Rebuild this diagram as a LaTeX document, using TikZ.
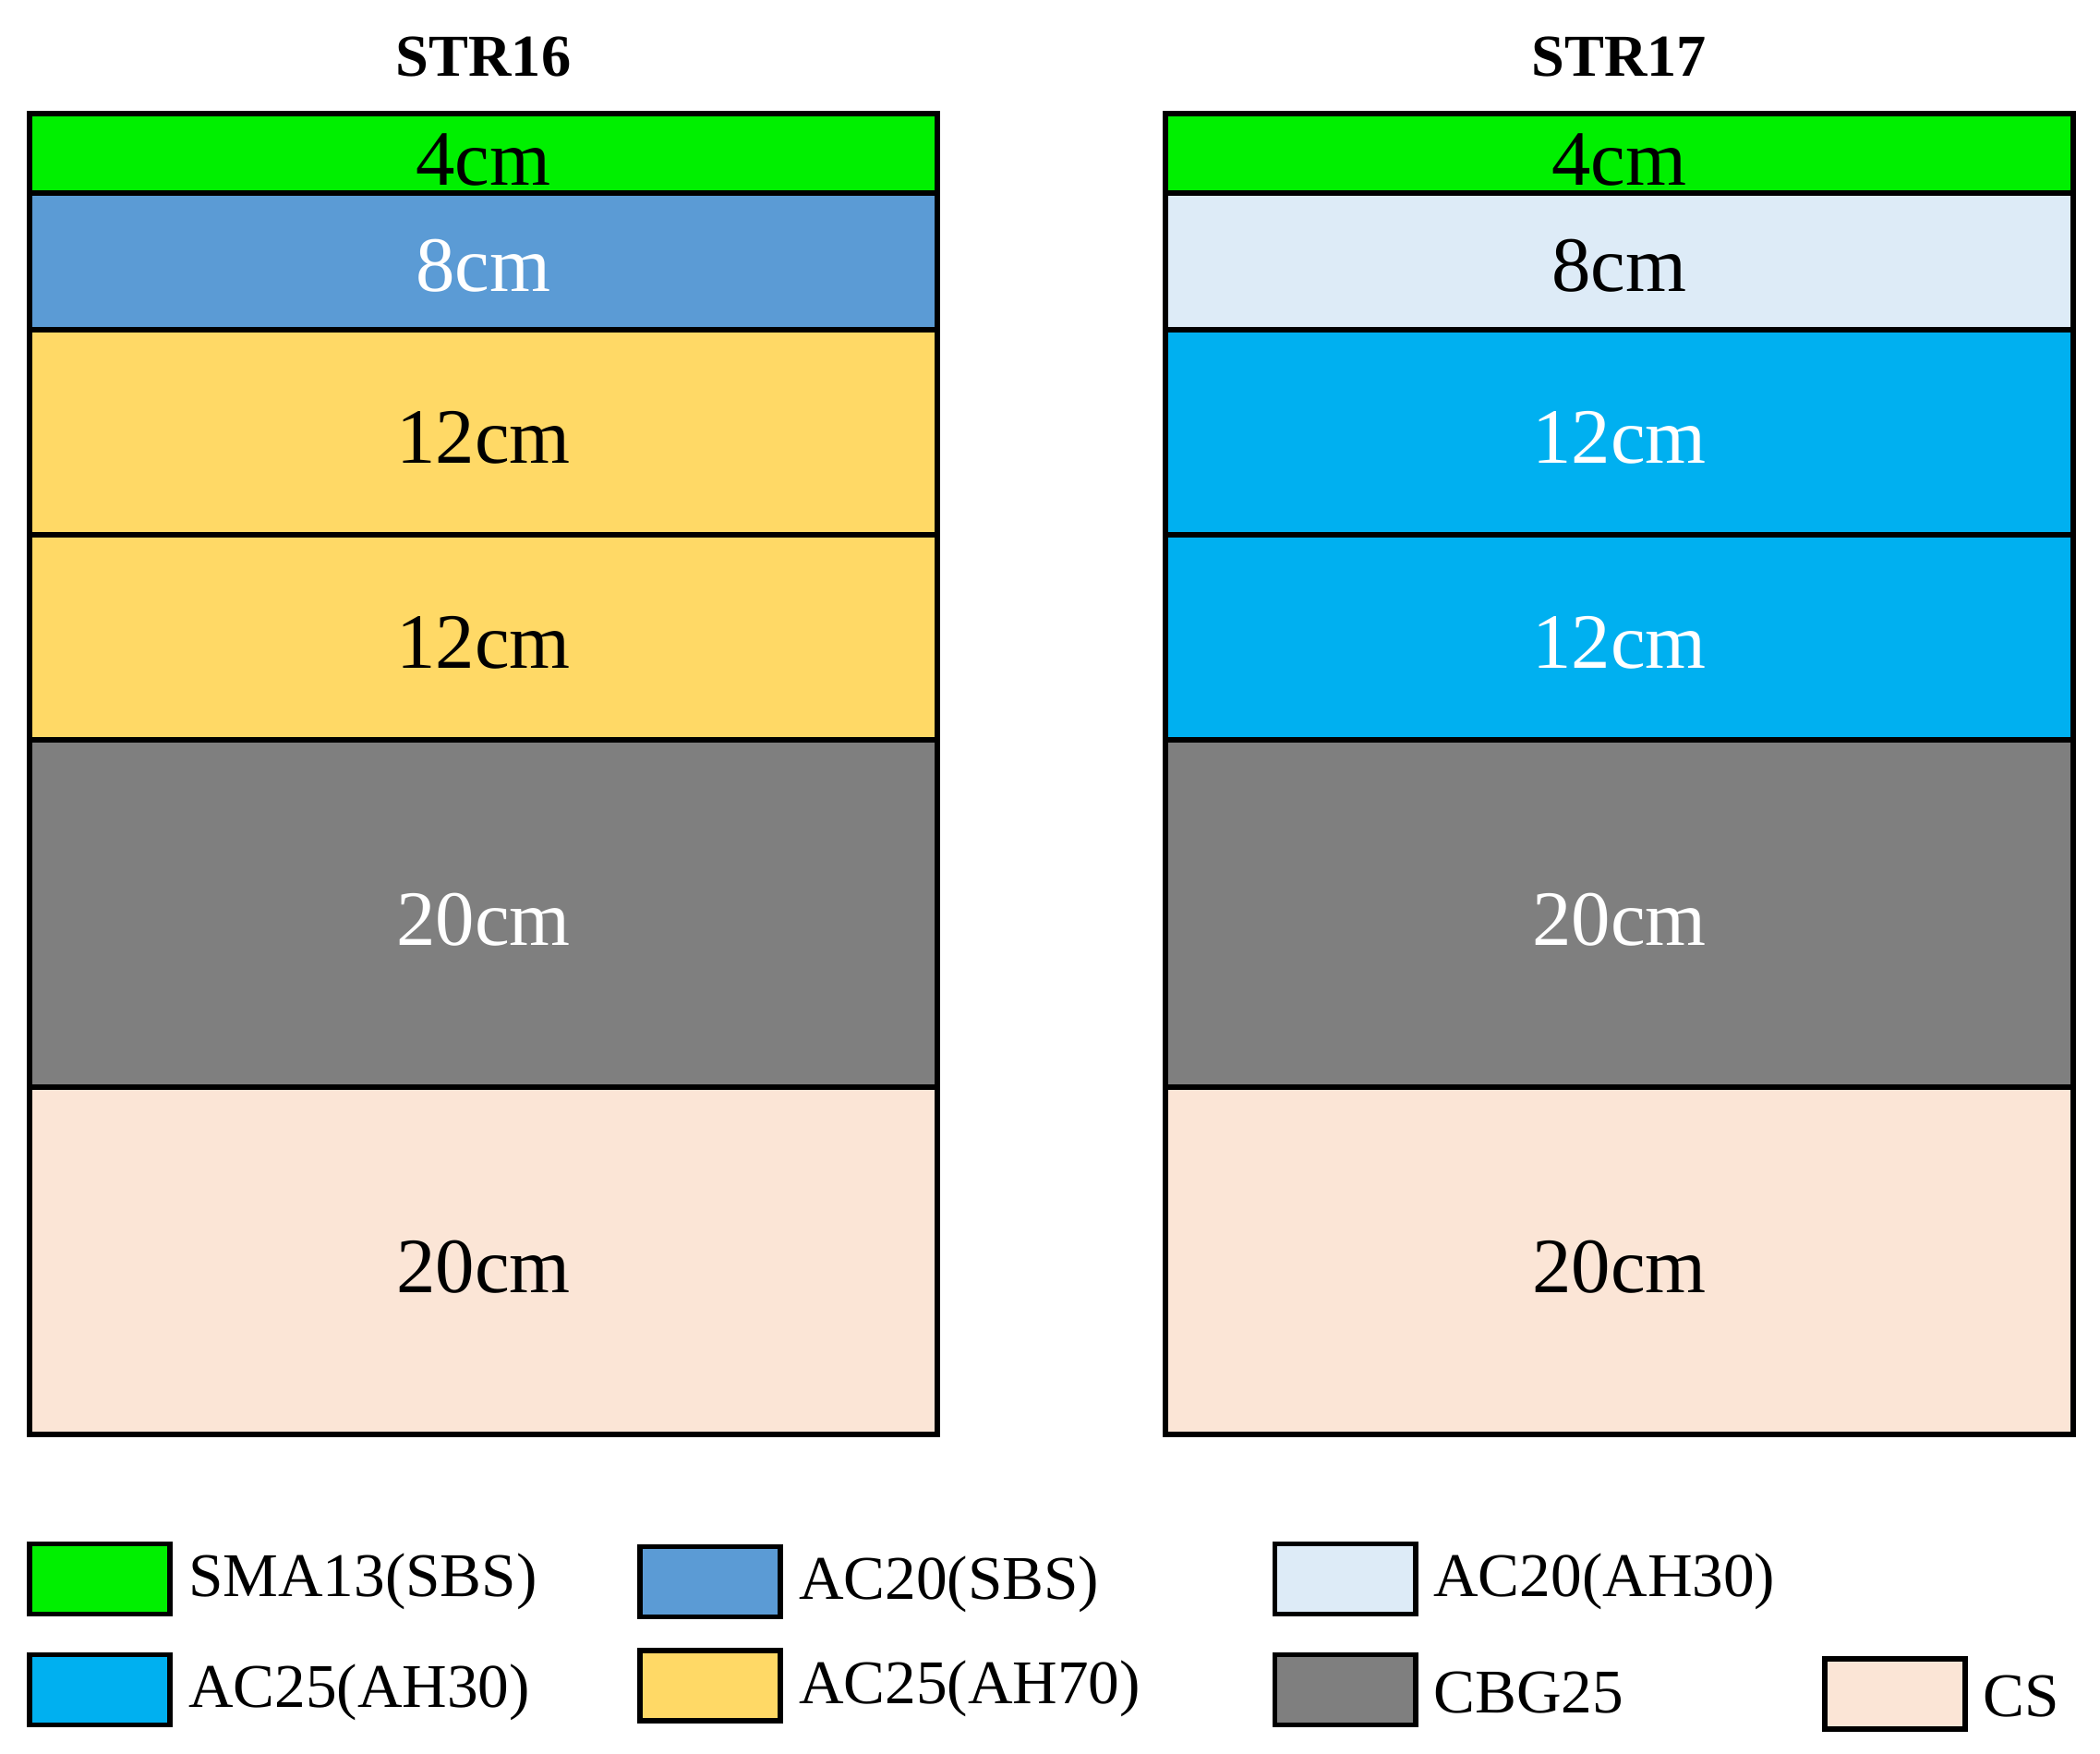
\documentclass[tikz,border=0pt]{standalone}
\usepackage{fontspec}
\setmainfont{Liberation Serif}
\definecolor{cg}{HTML}{00F000}
\definecolor{cb}{HTML}{5B9BD5}
\definecolor{cy}{HTML}{FFD966}
\definecolor{cgr}{HTML}{7F7F7F}
\definecolor{cp}{HTML}{FBE5D6}
\definecolor{cl}{HTML}{DDEBF7}
\definecolor{cc}{HTML}{00B0F0}
\tikzset{lay/.style={draw=black,line width=4pt},
 lt/.style={font=\fontsize{58}{58}\selectfont},
 leg/.style={draw=black,line width=4pt},
 lg/.style={anchor=west,font=\fontsize{46}{46}\selectfont},
 tt/.style={font=\bfseries\fontsize{44}{44}\selectfont}}
\begin{document}
\begin{tikzpicture}[x=1pt,y=-1pt]
\useasboundingbox (0,0) rectangle (1555,1298);
\foreach \xa/\nm/\cb/\tb/\cc/\tc [count=\i] in {22/STR16/cb/white/cy/black, 863/STR17/cl/black/cc/white}{
 \pgfmathsetmacro\xb{\xa+672}
 \pgfmathsetmacro\xm{\xa+336}
 \node[tt] (t\i) at (\xm,42) {\nm};
 \draw[lay,fill=cg] (\xa,84) rectangle (\xb,143);
 \node[lt] (a\i) at (\xm,118) {4cm};
 \draw[lay,fill=\cb] (\xa,143) rectangle (\xb,244);
 \node[lt,text=\tb] (b\i) at (\xm,197) {8cm};
 \draw[lay,fill=\cc] (\xa,244) rectangle (\xb,396);
 \node[lt,text=\tc] (c\i) at (\xm,324) {12cm};
 \draw[lay,fill=\cc] (\xa,396) rectangle (\xb,548);
 \node[lt,text=\tc] (d\i) at (\xm,476) {12cm};
 \draw[lay,fill=cgr] (\xa,548) rectangle (\xb,805);
 \node[lt,text=white] (e\i) at (\xm,681) {20cm};
 \draw[lay,fill=cp] (\xa,805) rectangle (\xb,1062);
 \node[lt] (f\i) at (\xm,938) {20cm};
}
\foreach \x/\y/\c/\t [count=\j] in {22/1143/cg/SMA13(SBS), 474/1145/cb/AC20(SBS), 944/1143/cl/AC20(AH30),
 22/1225/cc/AC25(AH30), 474/1222/cy/AC25(AH70), 944/1225/cgr/CBG25, 1351/1228/cp/CS}{
 \draw[leg,fill=\c] (\x,\y) rectangle ++(104,52);
 \node[lg] (l\j) at (\x+114,\y+28) {\t};
}
\end{tikzpicture}
\end{document}
